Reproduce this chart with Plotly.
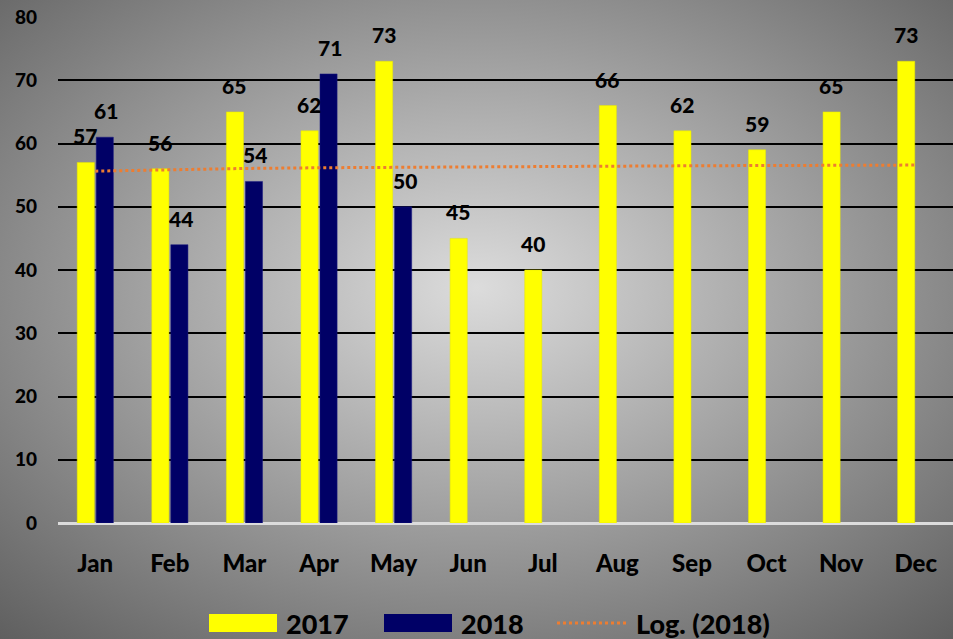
import base64
import numpy as np
import plotly.graph_objects as go

months = ["Jan", "Feb", "Mar", "Apr", "May", "Jun",
          "Jul", "Aug", "Sep", "Oct", "Nov", "Dec"]
values_2017 = [57, 56, 65, 62, 73, 45, 40, 66, 62, 59, 65, 73]
values_2018 = [61, 44, 54, 71, 50, None, None, None, None, None, None, None]
y_ticks = [0, 10, 20, 30, 40, 50, 60, 70, 80]

YELLOW = "#FFFF00"
NAVY = "#000066"
ORANGE = "#ED7D31"
FONT = "Lato"
WEIGHT = 900

W, H = 953, 639
M_L, M_R, M_T, M_B = 58, 0, 17, 116

x_idx = np.arange(len(months))

# logarithmic trend of the 2018 series, y = a*ln(x) + b with x = 1..n
known = [(i + 1, v) for i, v in enumerate(values_2018) if v is not None]
kx = np.array([k[0] for k in known], dtype=float)
ky = np.array([k[1] for k in known], dtype=float)
a, b = np.polyfit(np.log(kx), ky, 1)
trend = a * np.log(x_idx + 1.0) + b

fig = go.Figure()
fig.add_trace(go.Bar(x=x_idx, y=values_2017, name="2017",
                     marker=dict(color=YELLOW, line=dict(color="#E6E600", width=0.5))))
fig.add_trace(go.Bar(x=x_idx, y=values_2018, name="2018",
                     marker=dict(color=NAVY, line=dict(color="#1a1a80", width=0.5))))
fig.add_trace(go.Scatter(x=x_idx, y=trend, mode="lines", name="Log. (2018)",
                         line=dict(color=ORANGE, width=3, dash="dot"),
                         hoverinfo="skip"))

# value labels above each bar
ann = []
for i, v in enumerate(values_2017):
    ann.append(dict(x=i, y=v, text=str(v), xref="x", yref="y", showarrow=False,
                    xanchor="center", yanchor="bottom", xshift=-10, yshift=12,
                    font=dict(family=FONT, size=21, color="black", weight=WEIGHT)))
for i, v in enumerate(values_2018):
    if v is None:
        continue
    ann.append(dict(x=i, y=v, text=str(v), xref="x", yref="y", showarrow=False,
                    xanchor="center", yanchor="bottom", xshift=11, yshift=12,
                    font=dict(family=FONT, size=21, color="black", weight=WEIGHT)))

# legend drawn below the plot area
pw, ph = W - M_L - M_R, H - M_T - M_B


def px(x):
    return (x - M_L) / pw


def py(y):
    return (H - M_B - y) / ph


shapes = [
    dict(type="rect", xref="paper", yref="paper", x0=px(209), x1=px(277),
         y0=py(632), y1=py(614), fillcolor=YELLOW, line=dict(width=0)),
    dict(type="rect", xref="paper", yref="paper", x0=px(384), x1=px(452),
         y0=py(632), y1=py(614), fillcolor=NAVY, line=dict(width=0)),
    dict(type="line", xref="paper", yref="paper", x0=px(557), x1=px(628),
         y0=py(623), y1=py(623), line=dict(color=ORANGE, width=3, dash="dot")),
]
for xt, label in [(284, "2017"), (459, "2018"), (634, "Log. (2018)")]:
    ann.append(dict(x=px(xt), y=py(623), xref="paper", yref="paper", text=label,
                    showarrow=False, xanchor="left", yanchor="middle",
                    font=dict(family=FONT, size=27, color="black", weight=WEIGHT)))

# radial grey background
svg = (
    f'<svg xmlns="http://www.w3.org/2000/svg" width="{W}" height="{H}">'
    '<defs><radialGradient id="g" cx="50%" cy="45%" r="75%">'
    '<stop offset="0%" stop-color="#dcdcdc"/>'
    '<stop offset="100%" stop-color="#5e5e5e"/>'
    '</radialGradient></defs>'
    f'<rect width="{W}" height="{H}" fill="url(#g)"/></svg>'
)
bg = "data:image/svg+xml;base64," + base64.b64encode(svg.encode()).decode()

fig.update_layout(
    width=W, height=H,
    margin=dict(l=M_L, r=M_R, t=M_T, b=M_B),
    paper_bgcolor="#a0a0a0",
    plot_bgcolor="rgba(0,0,0,0)",
    barmode="group", bargap=0.49, bargroupgap=0.1,
    showlegend=False,
    annotations=ann,
    shapes=shapes,
    images=[dict(source=bg, xref="paper", yref="paper",
                 x=-M_L / pw, y=1 + M_T / ph, sizex=W / pw, sizey=H / ph,
                 xanchor="left", yanchor="top", sizing="stretch", layer="below")],
    xaxis=dict(range=[-0.5, 11.5], tickvals=list(x_idx), ticktext=months,
               showgrid=False, zeroline=False, showline=False, ticks="",
               ticklabelstandoff=24,
               tickfont=dict(family=FONT, size=24, color="black", weight=WEIGHT)),
    yaxis=dict(range=[0, 80], tickvals=y_ticks, showgrid=True,
               gridcolor="black", gridwidth=2,
               zeroline=True, zerolinecolor="#dcdcdc", zerolinewidth=3,
               showline=False, ticks="", ticklabelstandoff=20,
               tickfont=dict(family=FONT, size=19, color="black", weight=WEIGHT)),
)

fig.write_html("out.html")
